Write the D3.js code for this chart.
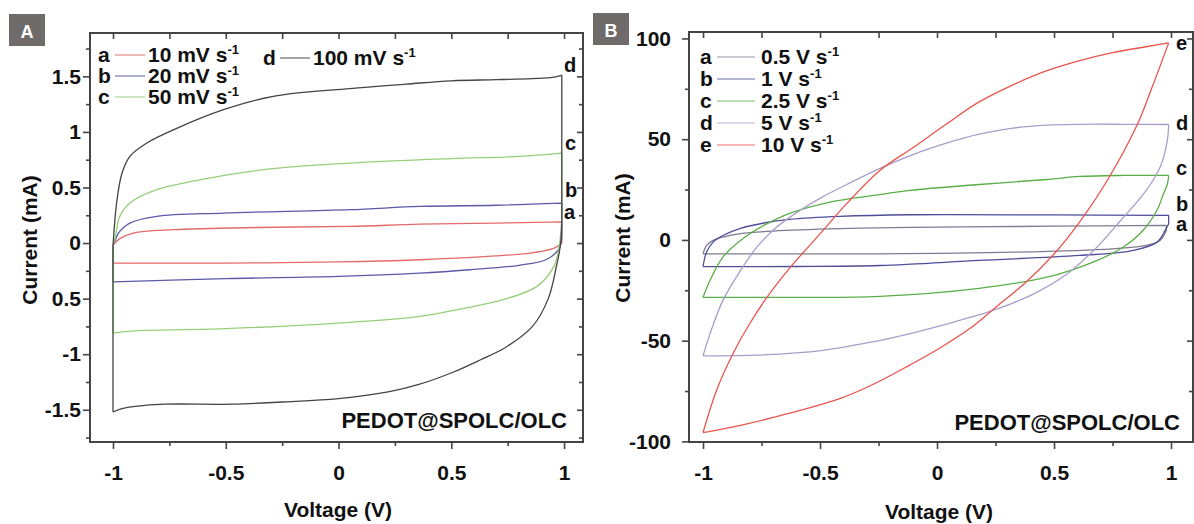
<!DOCTYPE html>
<html>
<head>
<meta charset="utf-8">
<script src="https://cdn.jsdelivr.net/npm/d3@7"></script>
<style>
  body { margin: 0; background: #fff; }
  svg text { font-family: "Liberation Sans", Arial, sans-serif; font-weight: bold; fill: #111; }
</style>
</head>
<body>
<svg id="chart" width="1194" height="524"></svg>
<script>
'use strict';

// ---- panel A : PEDOT@SPOLC/OLC, slow scan rates (V, mA) ----
var a10Fwd  = [[-1,-0.18],[-1,-0.02],[-0.97,0.04],[-0.91,0.09],[-0.73,0.12],[-0.36,0.14],[0.05,0.15],[0.36,0.17],[0.7,0.18],[0.99,0.19]];
var a10Rev  = [[0.99,0.19],[0.99,0.0],[0.97,-0.03],[0.95,-0.05],[0.85,-0.09],[0.66,-0.12],[0.36,-0.15],[0,-0.17],[-0.5,-0.18],[-1,-0.18]];
var a20Fwd  = [[-1,-0.35],[-1,-0.02],[-0.985,0.05],[-0.976,0.09],[-0.925,0.18],[-0.806,0.24],[-0.51,0.27],[0.05,0.30],[0.36,0.33],[0.7,0.34],[0.99,0.36]];
var a20Rev  = [[0.99,0.36],[0.99,0.05],[0.975,-0.06],[0.92,-0.15],[0.8,-0.2],[0.58,-0.24],[0.36,-0.27],[0,-0.30],[-0.5,-0.32],[-1,-0.35]];
var a50Fwd  = [[-1,-0.81],[-1,-0.02],[-0.99,0.05],[-0.97,0.24],[-0.925,0.36],[-0.806,0.48],[-0.585,0.58],[-0.29,0.67],[0.05,0.72],[0.5,0.76],[0.8,0.78],[0.99,0.81]];
var a50Rev  = [[0.99,0.81],[0.99,0.2],[0.98,0.0],[0.955,-0.21],[0.88,-0.39],[0.73,-0.51],[0.55,-0.59],[0.36,-0.66],[0,-0.72],[-0.5,-0.77],[-0.9,-0.79],[-1,-0.81]];
var a100Fwd = [[-1,-1.52],[-1,-0.03],[-0.984,0.36],[-0.96,0.63],[-0.925,0.78],[-0.85,0.90],[-0.72,1.03],[-0.51,1.20],[-0.29,1.32],[0.05,1.39],[0.3,1.43],[0.5,1.46],[0.7,1.47],[0.86,1.48],[0.95,1.49],[0.99,1.51]];
var a100Rev = [[0.99,1.51],[0.99,0.3],[0.985,0.0],[0.965,-0.22],[0.93,-0.5],[0.86,-0.75],[0.74,-0.94],[0.63,-1.05],[0.51,-1.16],[0.36,-1.27],[0.22,-1.34],[0,-1.40],[-0.25,-1.43],[-0.47,-1.45],[-0.77,-1.45],[-0.9,-1.47],[-0.96,-1.49],[-1,-1.52]];

// ---- panel B : fast scan rates (V, mA) ----
var b05Fwd = [[-1,-6.9],[-0.985,-2.7],[-0.957,-0.25],[-0.915,1.4],[-0.84,3.1],[-0.70,4.4],[-0.415,5.6],[-0.115,6.2],[0.5,6.8],[0.98,7.2]];
var b05Rev = [[0.98,7.2],[0.98,4.7],[0.953,-0.25],[0.896,-2.7],[0.75,-4.4],[0.325,-6.1],[-0.244,-6.9],[-1,-6.9]];
var b1Fwd  = [[-1,-13.2],[-0.985,-6],[-0.957,-1.1],[-0.915,2.2],[-0.84,5.7],[-0.74,8.4],[-0.63,10.2],[-0.415,11.7],[-0.115,12.5],[0.5,12.4],[0.99,12.2]];
var b1Rev  = [[0.99,12.2],[0.99,8],[0.975,4.7],[0.94,-1.1],[0.84,-5.2],[0.61,-7.7],[0.18,-10.2],[-0.244,-12.7],[-0.6,-13.2],[-1,-13.2]];
var b25Fwd = [[-1,-28.5],[-0.97,-20],[-0.915,-8.5],[-0.84,-0.3],[-0.74,7.2],[-0.63,13.2],[-0.457,18.8],[-0.27,22.1],[-0.115,24.6],[0.18,27.5],[0.47,30],[0.61,31.5],[0.8,32],[0.99,32]];
var b25Rev = [[0.99,32],[0.985,28],[0.965,22],[0.94,14.7],[0.88,4.7],[0.795,-3.6],[0.667,-11],[0.47,-18.5],[0.18,-24],[-0.244,-28],[-0.6,-28.5],[-1,-28.5]];
var b5Fwd  = [[-1,-57.5],[-0.97,-46.5],[-0.915,-30],[-0.84,-15.2],[-0.77,-3.6],[-0.685,6.4],[-0.585,14.7],[-0.487,21.5],[-0.386,27.5],[-0.244,35.5],[-0.10,42.5],[0.04,48],[0.18,52.5],[0.325,55.5],[0.47,57],[0.61,57.4],[0.8,57.4],[0.99,57.3]];
var b5Rev  = [[0.99,57.3],[0.985,50],[0.96,38],[0.92,29],[0.87,21],[0.78,9],[0.68,-4],[0.554,-17],[0.40,-27.5],[0.226,-35.5],[0,-43],[-0.115,-46.5],[-0.27,-50.5],[-0.487,-54.8],[-0.77,-57.2],[-1,-57.5]];
var b10Fwd = [[-1,-95.6],[-0.94,-74],[-0.87,-56],[-0.80,-41.5],[-0.73,-29],[-0.63,-14],[-0.50,3],[-0.386,18],[-0.244,34.5],[-0.10,46],[0.04,57.5],[0.18,68.5],[0.325,77],[0.47,84],[0.61,89],[0.75,93],[0.90,96],[0.99,97.8]];
var b10Rev = [[0.99,97.8],[0.92,76],[0.855,57],[0.725,29],[0.61,9],[0.50,-7],[0.38,-21],[0.255,-33],[0.14,-44],[0,-54.5],[-0.115,-62],[-0.27,-71.5],[-0.41,-78.5],[-0.63,-86],[-0.84,-92],[-1,-95.6]];

// legend / tick texts
var letters   = ['a','b','c','d','e'];
var ratesA    = ['10 mV s','20 mV s','50 mV s','100 mV s'];
var ratesB    = ['0.5 V s','1 V s','2.5 V s','5 V s','10 V s'];
var xMajor    = [-1,-0.5,0,0.5,1];
var xMinor    = [-0.75,-0.25,0.25,0.75];
var xLabels   = ['-1','-0.5','0','0.5','1'];
var yMajorA   = [-1.5,-1,-0.5,0,0.5,1,1.5];
var yMinorA   = [-1.75,-1.25,-0.75,-0.25,0.25,0.75,1.25,1.75];
var yLabelsA  = ['-1.5','-1','0.5','0','0.5','1','1.5'];
var yMajorB   = [-100,-50,0,50,100];
var yMinorB   = [-75,-25,25,75];
var yLabelsB  = ['-100','-50','0','50','100'];

var colorsA = ['#e46a6a','#5a5aa8','#96cf7c','#444444'];
var colorsB = ['#7c7c90','#4d4d99','#5aae48','#a99dca','#e8554e'];

var svg = d3.select('#chart');

//Split a branch at vertical jumps so corners stay sharp
var pieces = function(pts){
	var out = [], cur = [pts[0]];
	for(var i=1; i<pts.length; i++){
		if(pts[i][0] === pts[i-1][0]){
			if(cur.length > 1){ out.push(cur); }
			out.push([pts[i-1], pts[i]]);
			cur = [pts[i]];
		} else{
			cur.push(pts[i]);
		}
	}
	if(cur.length > 1){ out.push(cur); }
	return out;
};

var drawPanel = function(p){
	var x = d3.scaleLinear().domain(p.xDom).range([p.left, p.right]);
	var y = d3.scaleLinear().domain(p.yDom).range([p.bottom, p.top]);
	var g = svg.append('g');

	var line = d3.line()
		.x(function(d){ return x(d[0]); })
		.y(function(d){ return y(d[1]); })
		.curve(d3.curveCatmullRom.alpha(0.5));

	//Curves
	p.curves.forEach(function(c, i){
		var d = pieces(c[0]).concat(pieces(c[1])).map(function(s){ return line(s); }).join('');
		g.append('path')
			.attr('d', d)
			.attr('fill','none')
			.attr('stroke', p.colors[i])
			.attr('stroke-width', 1.3)
			.attr('stroke-linejoin','round');
	});

	//Axes (ticks only, frame drawn separately)
	var fmtX = function(d){ return p.xLabels[p.xMajor.indexOf(d)]; };
	var fmtY = function(d){ return p.yLabels[p.yMajor.indexOf(d)]; };
	var axes = [
		[d3.axisBottom(x).tickValues(p.xMajor).tickSize(7).tickPadding(16).tickFormat(fmtX), 'translate(0,' + p.bottom + ')'],
		[d3.axisBottom(x).tickValues(p.xMinor).tickSize(4).tickFormat(''), 'translate(0,' + p.bottom + ')'],
		[d3.axisTop(x).tickValues(p.xMajor.concat(p.xMinor)).tickSize(-6).tickFormat(''), 'translate(0,' + p.top + ')'],
		[d3.axisLeft(y).tickValues(p.yMajor).tickSize(7).tickPadding(p.yPad).tickFormat(fmtY), 'translate(' + p.left + ',0)'],
		[d3.axisLeft(y).tickValues(p.yMinor).tickSize(4).tickFormat(''), 'translate(' + p.left + ',0)'],
		[d3.axisRight(y).tickValues(p.yMajor).tickSize(-6).tickFormat(''), 'translate(' + p.right + ',0)'],
		[d3.axisRight(y).tickValues(p.yMinor).tickSize(-4).tickFormat(''), 'translate(' + p.right + ',0)']
	];
	axes.forEach(function(a){
		var ax = g.append('g').attr('transform', a[1]).call(a[0]);
		ax.select('.domain').remove();
		ax.selectAll('line').attr('stroke','#444').attr('stroke-width',1.6);
		ax.selectAll('text').attr('font-size','21px').attr('fill','#111')
			.style('font-family','"Liberation Sans", Arial, sans-serif').style('font-weight','bold');
	});

	//Frame
	g.append('rect')
		.attr('x', p.left).attr('y', p.top)
		.attr('width', p.right - p.left).attr('height', p.bottom - p.top)
		.attr('fill','none').attr('stroke','#444').attr('stroke-width',2);

	//Axis titles
	g.append('text')
		.attr('transform','translate(' + p.yTitle[0] + ',' + p.yTitle[1] + ') rotate(-90)')
		.attr('text-anchor','middle').attr('font-size','21px')
		.text('Current (mA)');
	g.append('text')
		.attr('x', p.xTitle[0]).attr('y', p.xTitle[1])
		.attr('text-anchor','middle').attr('font-size','21px')
		.text('Voltage (V)');

	//Sample name
	g.append('text')
		.attr('x', p.sample[0]).attr('y', p.sample[1])
		.attr('text-anchor','end').attr('font-size','22px')
		.text('PEDOT@SPOLC/OLC');

	//Panel letter
	g.append('rect')
		.attr('x', p.tag[0]).attr('y', p.tag[1]).attr('width', 36).attr('height', 32)
		.attr('fill','#6f6b6b');
	g.append('text')
		.attr('x', p.tag[0] + 18).attr('y', p.tag[1] + 24)
		.attr('text-anchor','middle').attr('font-size','18px')
		.style('fill','#fff')
		.text(p.tagText);

	//Legend
	p.legend.forEach(function(l, i){
		g.append('text').attr('x', l[0]).attr('y', l[1]).attr('font-size','21px').text(letters[i]);
		g.append('line')
			.attr('x1', l[0] + 17).attr('x2', l[0] + 17 + p.legLine)
			.attr('y1', l[1] - 7).attr('y2', l[1] - 7)
			.attr('stroke', p.colors[i]).attr('stroke-width', 1.2).attr('opacity', 0.8);
		var t = g.append('text').attr('x', l[0] + 20 + p.legLine + p.legGap).attr('y', l[1]).attr('font-size','21px');
		t.append('tspan').text(p.rates[i]);
		t.append('tspan').attr('dy', -8).attr('font-size','13px').text('-1');
	});

	//End labels
	p.ends.forEach(function(e, i){
		g.append('text').attr('x', e[0]).attr('y', e[1]).attr('font-size','20px').text(letters[i]);
	});
};

drawPanel({
	left: 90, right: 583, top: 33, bottom: 442,
	xDom: [-1.102, 1.084], yDom: [-1.79, 1.89],
	curves: [[a10Fwd,a10Rev],[a20Fwd,a20Rev],[a50Fwd,a50Rev],[a100Fwd,a100Rev]],
	colors: colorsA, rates: ratesA,
	xMajor: xMajor, xMinor: xMinor, xLabels: xLabels,
	yMajor: yMajorA, yMinor: yMinorA, yLabels: yLabelsA, yPad: 2,
	yTitle: [37, 240], xTitle: [338, 517],
	sample: [567, 428],
	tag: [9, 14], tagText: 'A',
	legend: [[98,62],[98,83],[98,104],[263,65]], legLine: 30, legGap: 0,
	ends: [[564,219],[565,197],[565,150],[564,72]]
});

drawPanel({
	left: 689, right: 1193, top: 32, bottom: 442,
	xDom: [-1.06, 1.094], yDom: [-100.3, 103.2],
	curves: [[b05Fwd,b05Rev],[b1Fwd,b1Rev],[b25Fwd,b25Rev],[b5Fwd,b5Rev],[b10Fwd,b10Rev]],
	colors: colorsB, rates: ratesB,
	xMajor: xMajor, xMinor: xMinor, xLabels: xLabels,
	yMajor: yMajorB, yMinor: yMinorB, yLabels: yLabelsB, yPad: 11,
	yTitle: [630, 238], xTitle: [939, 519],
	sample: [1180, 430],
	tag: [593, 13], tagText: 'B',
	legend: [[700,64],[700,86],[700,108],[700,130],[700,152]], legLine: 38, legGap: 3,
	ends: [[1176,231],[1176,211],[1176,175],[1176,130],[1176,50]]
});
</script>
</body>
</html>
